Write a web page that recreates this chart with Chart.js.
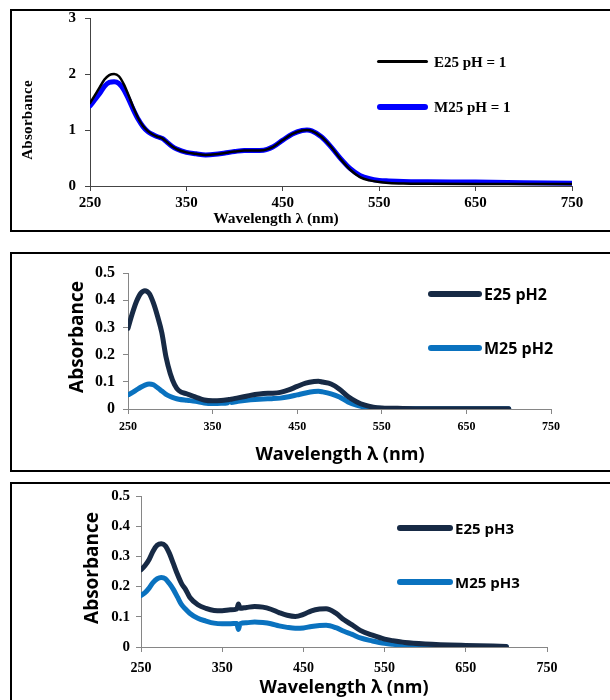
<!DOCTYPE html>
<html lang="en">
<head>
    <meta charset="UTF-8">
    <title>Absorbance spectra</title>
    <style>
        body { margin: 0; width: 610px; height: 700px; position: relative; overflow: hidden; background: #fff; }
        canvas { position: absolute; left: 0; }
        .box { position: absolute; border: 2px solid #000; box-sizing: border-box; z-index: 2; }
        .t { position: absolute; font-weight: bold; white-space: nowrap; color: #000; z-index: 3; }
        .serif { font-family: "Liberation Serif", "Times New Roman", serif; }
        .sans { font-family: "Open Sans", "Noto Sans", sans-serif; }
        .ytitle { transform: translate(-50%, -50%) rotate(-90deg); }
        .xtitle { transform: translate(-50%, -50%); }
        .leg { transform: translateY(-50%); }
        .swatch { position: absolute; z-index: 3; border-radius: 3px; }
    </style>
    <script src="https://cdn.jsdelivr.net/npm/chart.js"></script>
</head>
<body>
    <!-- panel 1 -->
    <canvas id="chart1" width="610" height="235" style="top:0"></canvas>
    <div class="box" style="left:10px; top:9px; width:602px; height:223px;"></div>
    <div class="t serif ytitle" style="left:27px; top:120px; font-size:15px; letter-spacing:0.3px;">Absorbance</div>
    <div class="t serif xtitle" style="left:276px; top:218px; font-size:15.5px;">Wavelength λ (nm)</div>
    <div class="swatch" style="left:377px; top:60px; width:51px; height:3px; background:#000;"></div>
    <div class="t serif leg" style="left:434px; top:62px; font-size:15px;">E25 pH = 1</div>
    <div class="swatch" style="left:377px; top:104px; width:51px; height:6px; background:#0000ff;"></div>
    <div class="t serif leg" style="left:434px; top:107px; font-size:15px;">M25 pH = 1</div>

    <!-- panel 2 -->
    <canvas id="chart2" width="610" height="235" style="top:240px"></canvas>
    <div class="box" style="left:10px; top:252px; width:602px; height:220px;"></div>
    <div class="t sans ytitle" style="left:76px; top:337px; font-size:19px;">Absorbance</div>
    <div class="t sans xtitle" style="left:340px; top:453px; font-size:18px;">Wavelength λ (nm)</div>
    <div class="swatch" style="left:428px; top:291px; width:54px; height:6px; background:#172a45;"></div>
    <div class="t sans leg" style="left:484px; top:294px; font-size:16px;">E25 pH2</div>
    <div class="swatch" style="left:428px; top:345px; width:54px; height:6px; background:#0a72bf;"></div>
    <div class="t sans leg" style="left:484px; top:348px; font-size:16px;">M25 pH2</div>

    <!-- panel 3 -->
    <canvas id="chart3" width="610" height="222" style="top:478px"></canvas>
    <div class="box" style="left:10px; top:482px; width:602px; height:230px;"></div>
    <div class="t sans ytitle" style="left:91px; top:568px; font-size:19px;">Absorbance</div>
    <div class="t sans xtitle" style="left:344px; top:686px; font-size:18px;">Wavelength λ (nm)</div>
    <div class="swatch" style="left:397px; top:525px; width:56px; height:6px; background:#172a45;"></div>
    <div class="t sans leg" style="left:455px; top:528px; font-size:15px;">E25 pH3</div>
    <div class="swatch" style="left:397px; top:579px; width:56px; height:6px; background:#0a72bf;"></div>
    <div class="t sans leg" style="left:455px; top:582px; font-size:15px;">M25 pH3</div>

    <script>
        // axis ticks
        const xTickValues = [250, 350, 450, 550, 650, 750];
        const xTickLabels = ['250', '350', '450', '550', '650', '750'];
        const yTickValues1 = [0, 1, 2, 3];
        const yTickLabels1 = ['0', '1', '2', '3'];
        const yTickValues23 = [0, 0.1, 0.2, 0.3, 0.4, 0.5];
        const yTickLabels23 = ['0', '0.1', '0.2', '0.3', '0.4', '0.5'];

        // pH = 1
        const wl1 = [250, 255, 260, 265, 270, 275, 280, 285, 290, 295, 300, 305, 310, 315, 320, 325, 330, 335, 340, 350, 360, 370, 380, 390, 400, 410, 420, 430, 440, 450, 460, 470, 475, 480, 490, 500, 510, 520, 530, 540, 550, 560, 575, 600, 650, 700, 750];
        const e25pH1 = [1.48, 1.62, 1.76, 1.90, 1.98, 2.00, 1.96, 1.82, 1.62, 1.40, 1.21, 1.07, 0.98, 0.92, 0.88, 0.85, 0.78, 0.71, 0.66, 0.60, 0.575, 0.555, 0.565, 0.59, 0.615, 0.635, 0.635, 0.64, 0.70, 0.82, 0.93, 0.99, 1.0, 0.985, 0.88, 0.70, 0.48, 0.29, 0.16, 0.10, 0.07, 0.055, 0.045, 0.04, 0.035, 0.035, 0.035];
        const m25pH1 = [1.43, 1.54, 1.65, 1.78, 1.85, 1.86, 1.83, 1.72, 1.55, 1.36, 1.19, 1.06, 0.97, 0.92, 0.88, 0.85, 0.78, 0.71, 0.66, 0.60, 0.575, 0.555, 0.565, 0.59, 0.615, 0.635, 0.635, 0.64, 0.70, 0.82, 0.93, 0.99, 1.0, 0.985, 0.88, 0.70, 0.49, 0.31, 0.19, 0.13, 0.10, 0.09, 0.08, 0.075, 0.07, 0.06, 0.05];

        // pH 2
        const wl2 = [250, 255, 260, 265, 270, 275, 280, 285, 290, 295, 300, 305, 310, 320, 330, 340, 350, 360, 368, 370, 372, 380, 390, 400, 410, 420, 430, 440, 450, 460, 470, 475, 480, 490, 500, 510, 520, 530, 540, 550, 575, 600, 650, 700];
        const e25pH2 = [0.297, 0.35, 0.395, 0.425, 0.435, 0.425, 0.39, 0.34, 0.28, 0.19, 0.13, 0.09, 0.068, 0.055, 0.044, 0.033, 0.03, 0.031, 0.034, 0.035, 0.036, 0.041, 0.047, 0.053, 0.057, 0.058, 0.061, 0.07, 0.083, 0.095, 0.101, 0.102, 0.099, 0.092, 0.073, 0.046, 0.027, 0.014, 0.007, 0.004, 0.002, 0.001, 0.001, 0.001];
        const m25pH2 = [0.052, 0.06, 0.07, 0.08, 0.088, 0.092, 0.089, 0.078, 0.066, 0.054, 0.046, 0.04, 0.036, 0.032, 0.028, 0.022, 0.02, 0.021, 0.023, 0.034, 0.024, 0.028, 0.032, 0.035, 0.037, 0.038, 0.04, 0.045, 0.052, 0.059, 0.064, 0.065, 0.063, 0.056, 0.044, 0.026, 0.014, 0.007, 0.004, 0.002, 0.001, 0.001, 0.001, 0.001];

        // pH 3
        const wl3 = [250, 255, 260, 265, 270, 275, 280, 285, 290, 295, 300, 305, 310, 320, 330, 340, 350, 360, 368, 370, 372, 380, 390, 400, 410, 420, 430, 440, 450, 460, 470, 478, 490, 500, 510, 520, 535, 550, 560, 575, 600, 650, 700];
        const e25pH3 = [0.256, 0.27, 0.29, 0.318, 0.337, 0.342, 0.335, 0.31, 0.275, 0.24, 0.21, 0.19, 0.165, 0.14, 0.128, 0.121, 0.12, 0.123, 0.126, 0.142, 0.128, 0.131, 0.134, 0.132, 0.125, 0.114, 0.105, 0.101, 0.108, 0.12, 0.126, 0.127, 0.112, 0.09, 0.073, 0.055, 0.039, 0.026, 0.021, 0.015, 0.01, 0.005, 0.002];
        const m25pH3 = [0.171, 0.18, 0.195, 0.214, 0.226, 0.23, 0.226, 0.21, 0.19, 0.165, 0.14, 0.125, 0.112, 0.095, 0.086, 0.079, 0.077, 0.077, 0.078, 0.058, 0.077, 0.08, 0.083, 0.081, 0.077, 0.07, 0.065, 0.062, 0.063, 0.068, 0.071, 0.072, 0.064, 0.052, 0.042, 0.03, 0.02, 0.012, 0.009, 0.006, 0.004, 0.002, 0.001];

        function toPoints(xs, ys) {
            return xs.map((x, i) => ({ x: x, y: ys[i] }));
        }

        function makeChart(id, cfg) {
            const serif = '"Liberation Serif", "Times New Roman", serif';
            new Chart(document.getElementById(id), {
                type: 'line',
                data: {
                    datasets: cfg.series.map(s => ({
                        data: toPoints(s.x, s.y),
                        borderColor: s.color,
                        borderWidth: s.width,
                        pointRadius: 0,
                        fill: false,
                        cubicInterpolationMode: 'monotone',
                        borderCapStyle: 'round',
                        borderJoinStyle: 'round'
                    }))
                },
                options: {
                    responsive: false,
                    animation: false,
                    layout: { padding: { left: 0, top: cfg.padTop, right: cfg.padRight, bottom: 0 } },
                    plugins: { legend: { display: false }, tooltip: { enabled: false } },
                    scales: {
                        x: {
                            type: 'linear',
                            min: 250,
                            max: 750,
                            afterFit: s => { s.height = cfg.xH; },
                            afterBuildTicks: s => { s.ticks = xTickValues.map(v => ({ value: v })); },
                            ticks: {
                                autoSkip: false,
                                maxRotation: 0,
                                padding: cfg.xPad,
                                color: '#000',
                                font: { family: serif, weight: 'bold', size: cfg.xFont },
                                callback: (v, i) => xTickLabels[i]
                            },
                            grid: { drawOnChartArea: false, drawTicks: true, tickLength: 5, color: cfg.axisColor },
                            border: { display: true, color: cfg.axisColor, width: 1 }
                        },
                        y: {
                            min: 0,
                            max: cfg.yValues[cfg.yValues.length - 1],
                            afterFit: s => { s.width = cfg.yW; },
                            afterBuildTicks: s => { s.ticks = cfg.yValues.map(v => ({ value: v })); },
                            ticks: {
                                autoSkip: false,
                                padding: cfg.yPad,
                                color: '#000',
                                font: { family: serif, weight: 'bold', size: cfg.yFont },
                                callback: (v, i) => cfg.yLabels[i]
                            },
                            grid: { drawOnChartArea: false, drawTicks: true, tickLength: 5, color: cfg.axisColor },
                            border: { display: true, color: cfg.axisColor, width: 1 }
                        }
                    }
                }
            });
        }

        makeChart('chart1', {
            yW: 90, padTop: 18, padRight: 38, xH: 49,
            xPad: 3, yPad: 9, xFont: 15, yFont: 15,
            axisColor: '#444',
            yValues: yTickValues1, yLabels: yTickLabels1,
            series: [
                { x: wl1, y: e25pH1, color: '#000000', width: 2.5 },
                { x: wl1, y: m25pH1, color: '#0000ff', width: 5 }
            ]
        });

        makeChart('chart2', {
            yW: 128, padTop: 33, padRight: 59, xH: 66,
            xPad: 6, yPad: 8, xFont: 12, yFont: 16,
            axisColor: '#868686',
            yValues: yTickValues23, yLabels: yTickLabels23,
            series: [
                { x: wl2, y: e25pH2, color: '#172a45', width: 5 },
                { x: wl2, y: m25pH2, color: '#0a72bf', width: 5 }
            ]
        });

        makeChart('chart3', {
            yW: 141, padTop: 18, padRight: 63, xH: 53,
            xPad: 8, yPad: 6, xFont: 14, yFont: 15,
            axisColor: '#868686',
            yValues: yTickValues23, yLabels: yTickLabels23,
            series: [
                { x: wl3, y: e25pH3, color: '#172a45', width: 5 },
                { x: wl3, y: m25pH3, color: '#0a72bf', width: 5 }
            ]
        });
    </script>
</body>
</html>
